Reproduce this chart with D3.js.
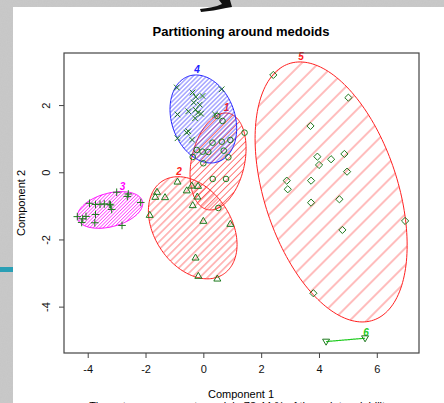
<!DOCTYPE html>
<html>
<head>
  <meta charset="utf-8">
  <title>Partitioning around medoids</title>
  <style>
    body { margin: 0; background: #fff; }
    svg { display: block; font-family: "Liberation Sans", Arial, sans-serif; }
  </style>
</head>
<body>
  <div id="chart"></div>

  <script src="https://d3js.org/d3.v7.min.js"></script>
  <script>
// axis setup
var xDomain = [-4.82, 7.46];
var yDomain = [-5.38, 3.55];
var xTicks = [-4, -2, 0, 2, 4, 6];
var yTicks = [-4, -2, 0, 2];

// cluster points (component 1, component 2)
var clus1 = [[0.484,1.676],[0.664,1.527],[1.426,1.179],[0.934,0.961],[0.637,0.911],[0.318,0.881],
  [0.706,0.643],[-0.228,0.664],[-0.028,0.613],[0.173,0.604],[-0.367,0.455],[0.865,0.446],
  [0.0,0.268],[0.325,-0.199],[0.785,-0.199],[0.519,-1.063]];
var clus2 = [[-0.893,-0.280],[-0.401,-0.399],[-0.183,-0.408],[-0.574,-0.542],[-1.602,-0.586],
  [-1.661,-0.735],[-1.325,-0.744],[-0.208,-0.726],[-0.367,-0.982],[-1.855,-1.271],[0.0,-1.449],
  [0.934,-1.539],[-0.270,-2.542],[-0.173,-3.086],[0.484,-3.167]];
var clus3 = [[-2.997,-0.595],[-2.595,-0.646],[-2.630,-0.720],[-2.166,-0.899],[-3.938,-0.923],
  [-3.730,-0.958],[-3.574,-0.952],[-3.426,-0.943],[-3.253,-0.952],[-3.211,-0.973],[-3.170,-1.107],
  [-4.360,-1.321],[-4.173,-1.384],[-4.059,-1.315],[-3.730,-1.256],[-4.208,-1.494],[-3.754,-1.503],
  [-2.813,-1.583]];
var clus4 = [[-0.920,2.524],[-0.374,2.375],[0.633,2.470],[-0.260,2.241],[-0.028,2.271],[-0.332,2.077],
  [-0.125,2.012],[-0.519,1.815],[-0.270,1.863],[-0.183,1.774],[-0.080,1.744],[-0.893,1.720],
  [0.405,1.720],[-0.287,1.607],[-0.519,1.220],[-0.574,1.179],[-0.893,1.012],[-0.391,0.970]];
var clus5 = [[2.42,2.896],[5.017,2.22],[3.706,1.378],[3.945,0.464],[4.419,0.387],[4.879,0.545],
  [4.003,0.217],[4.972,0.018],[2.886,-0.25],[3.727,-0.25],[2.920,-0.506],[4.706,-0.804],
  [3.727,-0.905],[6.979,-1.449],[4.81,-1.717],[3.806,-3.601]];
var clus6 = [[4.246,-5.04],[5.595,-4.94]];

// ellipses: center x, center y, half-width, half-height, correlation
var ellCx  = [0.509, -0.367, -3.228, 0.0, 4.42, 4.92];
var ellCy  = [0.321, -1.652, -1.122, 1.586, -0.586, -4.99];
var ellW   = [0.969, 1.533, 1.131, 1.153, 2.63, 0.6745];
var ellH   = [1.443, 1.52, 0.545, 1.31, 3.87, 0.05];
var ellRho = [0.27, -0.33, 0.35, -0.22, -0.41, 1];
var clusLabels = ["1", "2", "3", "4", "5", "6"];

var clusPoints = [clus1, clus2, clus3, clus4, clus5, clus6];
var clusShape = ["circle", "triangle", "plus", "cross", "diamond", "triangleDown"];
var clusColor = ["#ff2020", "#ff2020", "#ff00ff", "#2020ff", "#ff2020", "#22cc22"];
var hatchGap = [4.6, 5.4, 2.4, 3.2, 12, 0];

var width = 444, height = 403;
var svg = d3.select("#chart").append("svg")
  .attr("width", width)
  .attr("height", height);

var defs = svg.append("defs");

// grey textured background
var f = defs.append("filter").attr("id", "noise")
  .attr("x", 0).attr("y", 0).attr("width", "100%").attr("height", "100%");
f.append("feTurbulence").attr("type", "fractalNoise").attr("baseFrequency", 0.8).attr("numOctaves", 2);
f.append("feColorMatrix").attr("type", "matrix")
  .attr("values", "0 0 0 0 0.6  0 0 0 0 0.6  0 0 0 0 0.6  0.9 0 0 0 -0.2");
svg.append("rect").attr("width", width).attr("height", height).attr("fill", "#c6c6c6");
svg.append("rect").attr("width", width).attr("height", height).attr("filter", "url(#noise)");
svg.append("rect").attr("x", 13).attr("y", 7).attr("width", width - 13).attr("height", height - 7).attr("fill", "#fff");
svg.append("rect").attr("x", 0).attr("y", 267).attr("width", 13).attr("height", 5).attr("fill", "#2a9fb5");
svg.append("path")
  .attr("d", "M200,9 C208,8 216,7 222,4 L219,0 L230,0 L232,7 L226,8 C218,10 209,11 201,12 Z")
  .attr("fill", "#111");

var margin = {left: 64, top: 53, right: 419, bottom: 353};
var x = d3.scaleLinear().domain(xDomain).range([margin.left, margin.right]);
var y = d3.scaleLinear().domain(yDomain).range([margin.bottom, margin.top]);

// hatch patterns
hatchGap.forEach(function(g, i) {
  if (!g) return;
  var p = defs.append("pattern")
    .attr("id", "hatch" + i)
    .attr("patternUnits", "userSpaceOnUse")
    .attr("width", g).attr("height", g)
    .attr("patternTransform", "rotate(45)");
  p.append("line")
    .attr("x1", g / 2).attr("y1", 0).attr("x2", g / 2).attr("y2", g)
    .attr("stroke", clusColor[i]).attr("stroke-width", 0.8).attr("stroke-opacity", 0.75);
});

function ellipsePts(i) {
  var pts = [];
  var s = Math.sqrt(Math.max(0, 1 - ellRho[i] * ellRho[i]));
  for (var k = 0; k < 180; k++) {
    var t = k / 180 * 2 * Math.PI;
    pts.push([ellCx[i] + ellW[i] * Math.cos(t),
              ellCy[i] + ellH[i] * (ellRho[i] * Math.cos(t) + s * Math.sin(t))]);
  }
  return pts;
}

var line = d3.line()
  .x(function(d) { return x(d[0]); })
  .y(function(d) { return y(d[1]); })
  .curve(d3.curveLinearClosed);

var plot = svg.append("g");

// ellipses, drawn in R order
[4, 1, 0, 3, 2, 5].forEach(function(i) {
  var pts = ellipsePts(i);
  if (hatchGap[i]) {
    plot.append("path").attr("d", line(pts)).attr("fill", "url(#hatch" + i + ")");
  }
  plot.append("path").attr("d", line(pts))
    .attr("fill", "none")
    .attr("stroke", clusColor[i])
    .attr("stroke-width", i == 5 ? 1.2 : 1);
  plot.append("text")
    .attr("x", x(ellCx[i] + ellRho[i] * ellW[i]) + 1)
    .attr("y", y(ellCy[i] + ellH[i]) - 2)
    .attr("text-anchor", "middle")
    .attr("font-size", 10)
    .attr("font-style", "italic")
    .attr("font-weight", "bold")
    .attr("fill", clusColor[i])
    .text(clusLabels[i]);
});

function marker(shape) {
  switch (shape) {
    case "circle": return "M2.8,0A2.8,2.8 0 1,1 -2.8,0A2.8,2.8 0 1,1 2.8,0Z";
    case "triangle": return "M0,-3.6L3.5,2.4L-3.5,2.4Z";
    case "triangleDown": return "M0,3.6L3.5,-2.4L-3.5,-2.4Z";
    case "plus": return "M-3.8,0H3.8M0,-3.8V3.8";
    case "cross": return "M-2.8,-2.8L2.8,2.8M-2.8,2.8L2.8,-2.8";
    case "diamond": return "M0,-3.6L3.6,0L0,3.6L-3.6,0Z";
  }
}

clusPoints.forEach(function(pts, i) {
  plot.selectAll(null)
    .data(pts)
    .enter()
    .append("path")
    .attr("transform", function(d) { return "translate(" + x(d[0]) + "," + y(d[1]) + ")"; })
    .attr("d", marker(clusShape[i]))
    .attr("fill", "none")
    .attr("stroke", "#1e7a1e")
    .attr("stroke-width", 1);
});

// box and axes
svg.append("rect")
  .attr("x", margin.left).attr("y", margin.top)
  .attr("width", margin.right - margin.left).attr("height", margin.bottom - margin.top)
  .attr("fill", "none").attr("stroke", "#444").attr("stroke-width", 1.2);

function plainNum(d) { return String(d); }

svg.append("g")
  .attr("transform", "translate(0," + margin.bottom + ")")
  .call(d3.axisBottom(x).tickValues(xTicks).tickSize(5).tickPadding(7).tickFormat(plainNum))
  .call(function(g) {
    g.select(".domain").remove();
    g.selectAll("line").attr("stroke", "#444");
    g.selectAll("text").attr("font-size", 11).attr("fill", "#111").attr("font-family", "Liberation Sans, Arial, sans-serif");
  });

var ya = svg.append("g")
  .attr("transform", "translate(" + margin.left + ",0)")
  .call(d3.axisLeft(y).tickValues(yTicks).tickSize(5).tickFormat(plainNum));
ya.select(".domain").remove();
ya.selectAll("line").attr("stroke", "#444");
ya.selectAll("text")
  .attr("font-size", 11).attr("fill", "#111").attr("font-family", "Liberation Sans, Arial, sans-serif")
  .attr("x", 0).attr("dy", 0)
  .attr("text-anchor", "middle")
  .attr("transform", "translate(-14,0) rotate(-90)");

// titles
svg.append("text")
  .attr("x", 241).attr("y", 36)
  .attr("text-anchor", "middle")
  .attr("font-size", 13).attr("font-weight", "bold")
  .text("Partitioning around medoids");

svg.append("text")
  .attr("x", 241).attr("y", 398)
  .attr("text-anchor", "middle")
  .attr("font-size", 11)
  .text("Component 1");

svg.append("text")
  .attr("transform", "translate(25,203) rotate(-90)")
  .attr("text-anchor", "middle")
  .attr("font-size", 11)
  .text("Component 2");

svg.append("text")
  .attr("x", 241).attr("y", 410)
  .attr("text-anchor", "middle")
  .attr("font-size", 11)
  .text("These two components explain 73.44 % of the point variability.");
  </script>
</body>
</html>
